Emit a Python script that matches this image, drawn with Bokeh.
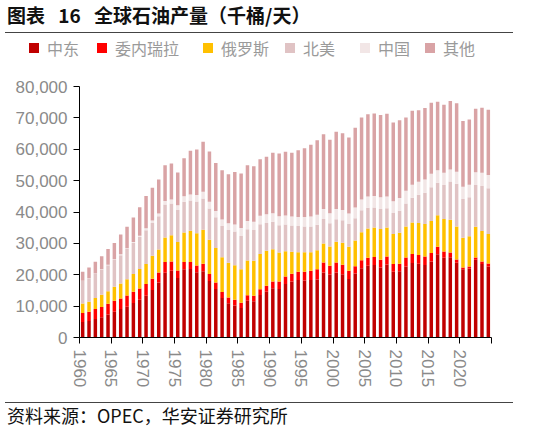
from bokeh.plotting import figure
from bokeh.layouts import column
from bokeh.models import (Range1d, FixedTicker, NumeralTickFormatter,
                          ColumnDataSource, Div)
from bokeh.embed import file_html
from bokeh.resources import INLINE

# ---------------- data (thousand barrels per day) ----------------
years = list(range(1960, 2025))

middle_east = [4920, 5280, 5860, 6440, 7360, 8230, 9060, 9840, 10960, 12030,
               13310, 15150, 17500, 20670, 21250, 19000, 21750, 21800, 20780, 21120,
               18030, 15430, 12600, 10950, 10200, 9370, 11710, 11540, 13510, 14570,
               15710, 15470, 17070, 17840, 18340, 18180, 18310, 18510, 20730, 20040,
               20750, 20150, 18650, 20400, 22100, 22890, 23110, 22330, 23260, 20990,
               21110, 22620, 23780, 23470, 23140, 24250, 26530, 25380, 25580, 23850,
               21740, 21990, 24810, 23450, 22660]

venezuela = [2850, 2920, 3200, 3250, 3390, 3470, 3370, 3540, 3600, 3590,
             3710, 3550, 3220, 3370, 2980, 2350, 2290, 2240, 2170, 2360,
             2170, 2100, 1900, 1800, 1800, 1680, 1790, 1750, 1900, 1900,
             2140, 2380, 2370, 2450, 2590, 2750, 2940, 3280, 3170, 2800,
             3150, 3010, 2600, 2340, 2560, 2560, 2510, 2430, 2560, 2400,
             2380, 2880, 2800, 2790, 2680, 2650, 2370, 2030, 1510, 1010,
             570, 640, 690, 780, 920]

russia = [3070, 3170, 3490, 3920, 4030, 4450, 4780, 5220, 5640, 6180,
          6380, 7330, 7320, 7840, 8390, 9060, 9430, 9960, 10310, 10840,
          10930, 10960, 11060, 11050, 11060, 10740, 11040, 11150, 11170, 11160,
          10310, 9240, 8080, 7010, 6270, 6270, 5950, 6050, 6060, 6160,
          6590, 7010, 7650, 8180, 8860, 9290, 9440, 9790, 9240, 9560,
          9880, 9880, 10070, 10200, 10320, 10200, 10090, 10320, 10420, 10520,
          9460, 9670, 9770, 9680, 9370]

north_america = [7130, 7400, 7700, 8000, 8250, 8550, 9000, 9600, 9900, 10200,
                 10800, 10500, 10600, 10500, 10100, 10200, 9800, 9700, 10100, 10000,
                 10000, 9800, 10000, 10500, 10700, 10600, 10000, 9800, 9500, 8900,
                 8700, 8700, 8500, 8400, 8300, 8200, 8200, 8100, 7800, 7400,
                 7200, 7200, 7300, 7100, 7000, 6600, 6400, 6400, 6100, 6700,
                 7000, 7300, 7900, 9000, 10000, 10800, 10300, 10900, 12200, 13600,
                 12400, 12400, 13300, 14400, 14600]

china = [100, 100, 110, 130, 170, 230, 290, 280, 300, 430,
         600, 790, 900, 1090, 1300, 1540, 1740, 1870, 2080, 2120,
         2120, 2020, 2040, 2120, 2290, 2500, 2620, 2680, 2740, 2750,
         2770, 2820, 2840, 2890, 2930, 2990, 3170, 3210, 3210, 3210,
         3250, 3300, 3350, 3400, 3490, 3610, 3670, 3730, 3800, 3800,
         4080, 4070, 4150, 4210, 4250, 4300, 4000, 3850, 3800, 3840,
         3900, 3990, 4110, 4200, 4260]

others = [2870, 3440, 3760, 4190, 4970, 5160, 6350, 6800, 7850, 9120,
          10260, 10390, 10820, 11460, 11440, 10440, 12150, 13930, 14480, 15920,
          16030, 15270, 15740, 15650, 16660, 17390, 17770, 17700, 18030, 18310,
          19230, 20040, 20320, 20270, 21280, 21960, 22840, 23750, 23840, 23400,
          24620, 24460, 24200, 25410, 26110, 26240, 26270, 26200, 26330, 25070,
          24830, 23370, 23550, 22800, 22720, 22600, 21830, 21680, 21830, 21880,
          20900, 20790, 20210, 20700, 20760]

series_keys = ["me", "ve", "ru", "na", "cn", "ot"]
series_names = ["中东", "委内瑞拉", "俄罗斯", "北美", "中国", "其他"]
series_colors = ["#C00000", "#FF0000", "#FFC000", "#E0C3C4", "#F2E6E6", "#D9A3A5"]

x_ticks = list(range(1960, 2026, 5))
y_ticks = list(range(0, 80001, 10000))

title_text = "图表 16 全球石油产量（千桶/天）"
source_text = "资料来源：OPEC，华安证券研究所"

W = 527
DIV_STYLE = {"margin": "0", "padding": "0"}

# ---------------- title ----------------
title_div = Div(width=W, height=36, styles=DIV_STYLE, text=(
    "<div style=\"position:relative;width:527px;height:36px;\">"
    "<div style=\"position:absolute;left:7px;top:3px;font-family:'Noto Sans CJK SC';"
    "font-weight:bold;font-size:19px;line-height:24px;word-spacing:9px;color:#111;"
    "white-space:nowrap;\">" + title_text + "</div>"
    "<div style=\"position:absolute;left:5px;top:32px;width:508px;height:0;"
    "border-top:1px solid #444;\"></div></div>"))

# ---------------- legend ----------------
legend_sq_left = [29, 97, 203, 285, 360, 425]
legend_parts = ["<div style=\"position:relative;width:527px;height:26px;\">"]
for name, col, left in zip(series_names, series_colors, legend_sq_left):
    legend_parts.append(
        "<div style=\"position:absolute;left:%dpx;top:7px;width:10px;height:10px;"
        "background:%s;\"></div>" % (left, col))
    legend_parts.append(
        "<div style=\"position:absolute;left:%dpx;top:0px;font-family:'Noto Sans CJK SC';"
        "font-size:16px;line-height:24px;color:#9a9a9a;white-space:nowrap;\">%s</div>"
        % (left + 18, name))
legend_parts.append("</div>")
legend_div = Div(width=W, height=26, styles=DIV_STYLE, text="".join(legend_parts))

# ---------------- figure ----------------
source = ColumnDataSource(dict(
    x=[y + 0.5 for y in years],
    me=middle_east, ve=venezuela, ru=russia, na=north_america, cn=china, ot=others,
))

p = figure(width=W, height=335, output_backend="svg", toolbar_location=None, title=None,
           x_range=Range1d(1960, 2025), y_range=Range1d(0, 80000),
           min_border_left=79, min_border_right=36, min_border_top=24, min_border_bottom=60)
p.outline_line_color = None
p.background_fill_color = "white"
p.border_fill_color = "white"
p.xgrid.visible = False
p.ygrid.visible = False

renderers = p.vbar_stack(series_keys, x="x", width=0.55, source=source,
                         fill_color=series_colors, line_color=None)

label_color = "#8a8a8a"
ax_font = "Liberation Sans"

xa = p.xaxis[0]
xa.ticker = FixedTicker(ticks=x_ticks)
xa.major_label_overrides = {2025: ""}
xa.major_label_orientation = "vertical"
xa.major_label_text_font = ax_font
xa.major_label_text_font_size = "17px"
xa.major_label_text_color = label_color
xa.axis_line_color = "#000000"
xa.major_tick_line_color = "#000000"
xa.major_tick_out = 6
xa.major_tick_in = 0
xa.minor_tick_line_color = None
xa.major_label_standoff = 6

ya = p.yaxis[0]
ya.ticker = FixedTicker(ticks=y_ticks)
ya.formatter = NumeralTickFormatter(format="0,0")
ya.major_label_text_font = ax_font
ya.major_label_text_font_size = "17px"
ya.major_label_text_color = label_color
ya.axis_line_color = "#000000"
ya.major_tick_line_color = "#000000"
ya.major_tick_out = 6
ya.major_tick_in = 0
ya.minor_tick_line_color = None
ya.major_label_standoff = 6

# ---------------- footer ----------------
footer_div = Div(width=W, height=30, styles=DIV_STYLE, text=(
    "<div style=\"position:relative;width:527px;height:30px;\">"
    "<div style=\"position:absolute;left:5px;top:5px;width:508px;height:0;"
    "border-top:1px solid #444;\"></div>"
    "<div style=\"position:absolute;left:7px;top:6px;font-family:'Noto Sans CJK SC';"
    "font-size:18px;line-height:24px;color:#111;white-space:nowrap;\">"
    + source_text + "</div></div>"))

layout = column(title_div, legend_div, p, footer_div, spacing=0)

open("out.html", "w").write(file_html(layout, INLINE))
